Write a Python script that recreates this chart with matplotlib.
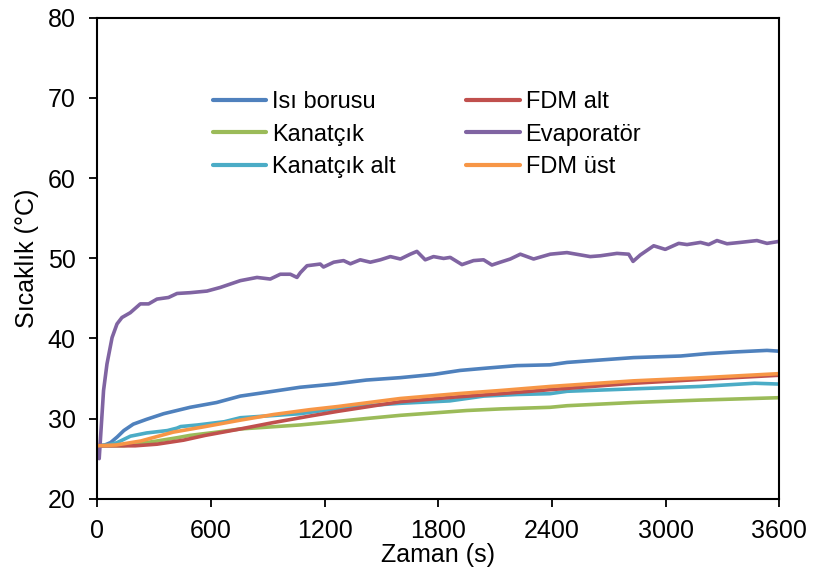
import matplotlib
matplotlib.use("Agg")
import matplotlib.pyplot as plt

plt.rcParams['font.family'] = ['Liberation Sans', 'DejaVu Sans']

# ---- data ----
t_isi = [0, 40, 70, 105, 140, 190, 260, 350, 490, 630, 755, 900, 1070, 1250, 1420,
         1600, 1775, 1915, 2060, 2215, 2390, 2480, 2655, 2830, 3080, 3220, 3360, 3535, 3600]
T_isi = [26.6, 26.7, 27.0, 27.7, 28.5, 29.3, 29.9, 30.6, 31.4, 32.0, 32.8, 33.3, 33.9, 34.3, 34.8,
         35.1, 35.5, 36.0, 36.3, 36.6, 36.7, 37.0, 37.3, 37.6, 37.8, 38.1, 38.3, 38.5, 38.4]

t_kan = [0, 140, 230, 315, 420, 490, 630, 755, 1070, 1250, 1420, 1600, 1775, 1950,
         2130, 2390, 2480, 2830, 3180, 3600]
T_kan = [26.6, 26.6, 26.9, 27.2, 27.6, 27.9, 28.3, 28.7, 29.2, 29.6, 30.0, 30.4, 30.7, 31.0,
         31.2, 31.4, 31.6, 32.0, 32.3, 32.6]

t_kalt = [0, 60, 105, 175, 260, 370, 420, 440, 530, 670, 755, 1070, 1250, 1420, 1600,
          1860, 2040, 2215, 2390, 2480, 2830, 3180, 3470, 3600]
T_kalt = [26.6, 26.7, 27.0, 27.8, 28.2, 28.5, 28.8, 29.0, 29.2, 29.6, 30.1, 30.6, 31.2, 31.6, 31.9,
          32.2, 32.8, 33.0, 33.1, 33.4, 33.7, 34.0, 34.4, 34.3]

t_fdma = [0, 200, 315, 455, 570, 755, 930, 1120, 1270, 1600, 1900, 2130, 2390, 2830, 3200, 3600]
T_fdma = [26.6, 26.6, 26.8, 27.3, 27.9, 28.7, 29.5, 30.3, 30.9, 32.1, 32.7, 33.1, 33.6, 34.4, 34.9, 35.4]

t_evap = [0, 10, 33, 51, 78, 104, 130, 174, 227, 271, 315, 376, 421, 491, 579, 649, 755, 843,
          913, 966, 1019, 1054, 1072, 1107, 1177, 1194, 1248, 1300, 1336, 1388, 1441, 1494,
          1547, 1600, 1652, 1687, 1731, 1775, 1828, 1863, 1925, 1986, 2039, 2083, 2127, 2180,
          2233, 2303, 2391, 2479, 2602, 2655, 2743, 2805, 2828, 2866, 2937, 2998, 3069, 3113,
          3184, 3227, 3271, 3324, 3394, 3482, 3535, 3600]
T_evap = [26.6, 25.0, 33.5, 36.8, 40.1, 41.8, 42.6, 43.2, 44.3, 44.3, 44.9, 45.1, 45.6, 45.7,
          45.9, 46.35, 47.2, 47.6, 47.4, 48.0, 48.0, 47.6, 48.2, 49.06, 49.27, 48.9, 49.5, 49.7,
          49.3, 49.8, 49.5, 49.8, 50.2, 49.9, 50.5, 50.85, 49.8, 50.2, 49.97, 50.1, 49.2, 49.7,
          49.8, 49.15, 49.5, 49.9, 50.5, 49.9, 50.5, 50.7, 50.2, 50.3, 50.6, 50.5, 49.6, 50.4,
          51.55, 51.1, 51.85, 51.7, 51.97, 51.7, 52.2, 51.8, 51.97, 52.2, 51.85, 52.1]

t_fdmu = [0, 100, 230, 400, 570, 755, 930, 1120, 1270, 1600, 1900, 2130, 2390, 2830, 3200, 3600]
T_fdmu = [26.6, 26.7, 27.2, 28.3, 29.0, 29.8, 30.5, 31.1, 31.5, 32.5, 33.1, 33.5, 34.0, 34.7, 35.1, 35.6]

labels = ["Isı borusu", "Kanatçık", "Kanatçık alt", "FDM alt", "Evaporatör", "FDM üst"]
colors = ["#4F81BD", "#9BBB59", "#4BACC6", "#C0504D", "#8064A2", "#F79646"]
series = [(t_isi, T_isi), (t_kan, T_kan), (t_kalt, T_kalt),
          (t_fdma, T_fdma), (t_evap, T_evap), (t_fdmu, T_fdmu)]

xticks = [0, 600, 1200, 1800, 2400, 3000, 3600]
yticks = [20, 30, 40, 50, 60, 70, 80]

fig = plt.figure(figsize=(8.13, 5.77), dpi=100)
ax = fig.add_axes([97.3/813, 1-498.7/577, (779.3-97.3)/813, (498.7-17.7)/577])

for (tt, vv), lab, c in zip(series, labels, colors):
    ax.plot(tt, vv, color=c, lw=2.6, label=lab, solid_capstyle='round')

ax.set_xlim(0, 3600)
ax.set_ylim(20, 80)
ax.set_xticks(xticks)
ax.set_yticks(yticks)
ax.tick_params(axis='both', direction='out', length=5.5, width=1.3, labelsize=18, pad=10)
ax.tick_params(axis='x', pad=9)
for s in ax.spines.values():
    s.set_linewidth(1.5)
ax.set_xlabel("Zaman (s)", fontsize=18, labelpad=0)
ax.set_ylabel("Sıcaklık (°C)", fontsize=18, labelpad=6)

leg = ax.legend(ncol=2, frameon=False, fontsize=17, loc='upper left',
                bbox_to_anchor=(213/813, 1-91/577), bbox_transform=fig.transFigure,
                borderpad=0, borderaxespad=0, handlelength=2.25, handletextpad=0.25,
                columnspacing=3.0, labelspacing=0.45)
for l in leg.get_lines():
    l.set_linewidth(3)

fig.savefig("out.png", dpi=100)
